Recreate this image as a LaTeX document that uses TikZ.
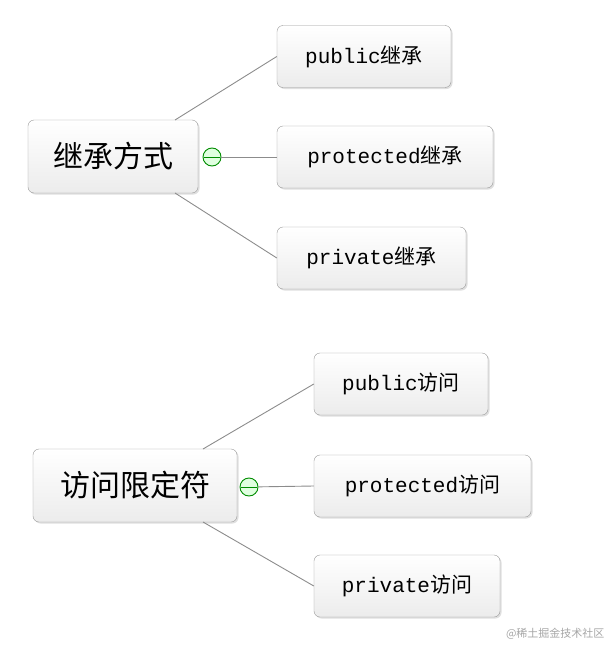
\documentclass[tikz,border=0pt]{standalone}
\usepackage{fontspec}
\setmonofont{Liberation Mono}
\newfontfamily\cjk{Noto Sans CJK SC}
\usetikzlibrary{shadows}
\begin{document}
\begin{tikzpicture}[x=1pt,y=-1pt,
  box/.style={draw=gray!80,rounded corners=6pt,top color=white,bottom color=gray!15,
    drop shadow={opacity=0.25,shadow xshift=1.5pt,shadow yshift=-1.5pt},inner sep=0pt},
  kid/.style={box,font=\fontsize{21}{21}\selectfont},
  root/.style={box,font=\cjk\fontsize{30}{30}\selectfont},
  link/.style={draw=gray!90,line width=0.9pt},
  knob/.style={circle,draw=green!55!black,fill=green!12,line width=0.9pt,minimum size=18pt,inner sep=0pt}]
\useasboundingbox (0,0) rectangle (613,648);
\node[root,minimum width=170pt,minimum height=73pt] (r1) at (113,156.5) {继承方式};
\node[kid,minimum width=174pt,minimum height=62pt] (a1) at (364,56.5) {\texttt{public}\cjk 继承};
\node[kid,minimum width=216pt,minimum height=62pt] (a2) at (385,157) {\texttt{protected}\cjk 继承};
\node[kid,minimum width=189pt,minimum height=62pt] (a3) at (371.5,258) {\texttt{private}\cjk 继承};
\node[knob] (k1) at (212,157) {};
\draw[green!55!black,line width=0.9pt] (204,157) -- (220,157);
\draw[link] (175,120) -- (a1.west);
\draw[link] (k1) -- (a2.west);
\draw[link] (175,193) -- (a3.west);
\node[root,minimum width=204pt,minimum height=73pt] (r2) at (135,485.5) {访问限定符};
\node[kid,minimum width=174pt,minimum height=62pt] (b1) at (401,384) {\texttt{public}\cjk 访问};
\node[kid,minimum width=217pt,minimum height=62pt] (b2) at (422.5,486) {\texttt{protected}\cjk 访问};
\node[kid,minimum width=186pt,minimum height=62pt] (b3) at (407,586) {\texttt{private}\cjk 访问};
\node[knob] (k2) at (249,487) {};
\draw[green!55!black,line width=0.9pt] (241,487) -- (257,487);
\draw[link] (203,449) -- (b1.west);
\draw[link] (k2) -- (b2.west);
\draw[link] (203,522) -- (b3.west);
\node[font=\cjk\fontsize{11}{11}\selectfont,text=gray!70,anchor=east] (wm) at (608,634) {@稀土掘金技术社区};
\end{tikzpicture}
\end{document}
